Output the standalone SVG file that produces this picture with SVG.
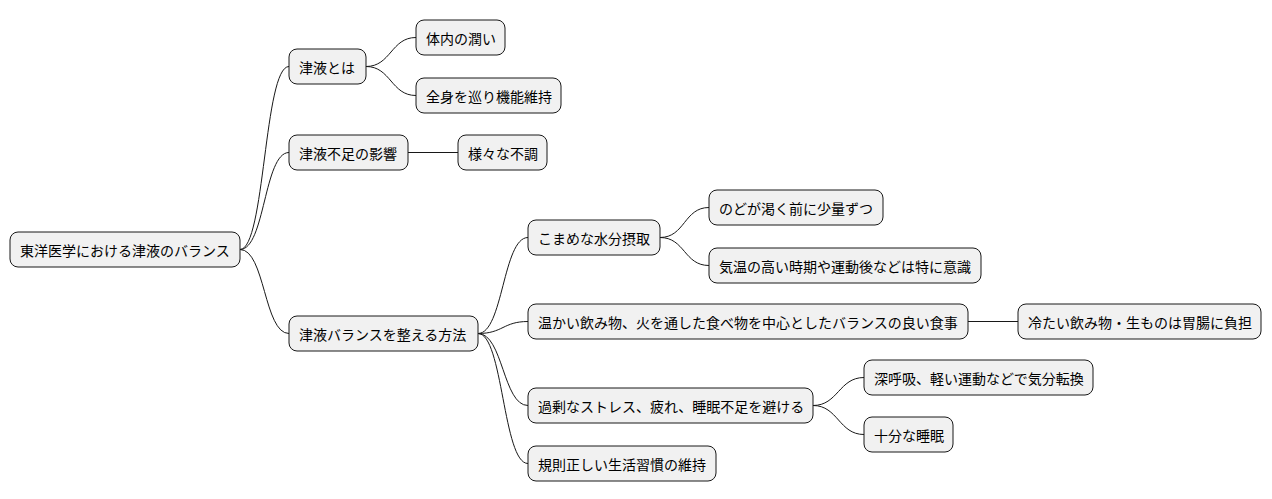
<svg xmlns="http://www.w3.org/2000/svg" width="1272" height="499" viewBox="0 0 1272 499">
<style>
rect{fill:#f1f1f1;stroke:#181818;stroke-width:1}
text{font-family:"Noto Sans CJK JP","Noto Sans",sans-serif;font-size:14px;fill:#000;dominant-baseline:central}
#edges path{fill:none;stroke:#181818;stroke-width:1}
</style>
<rect width="1272" height="499" style="fill:#fff;stroke:none"/>
<g id="edges">
<path d="M240,249.5 C265,249.5 264,66.5 289,66.5"/>
<path d="M240,249.5 C265,249.5 264,152.5 289,152.5"/>
<path d="M240,249.5 C265,249.5 264,333.5 289,333.5"/>
<path d="M366,66.5 C391,66.5 391,37.5 416,37.5"/>
<path d="M366,66.5 C391,66.5 391,95.5 416,95.5"/>
<path d="M408,152.5 L458,152.5"/>
<path d="M478,333.5 C503,333.5 503,237.5 528,237.5"/>
<path d="M478,333.5 C503,333.5 503,321.5 528,321.5"/>
<path d="M478,333.5 C503,333.5 503,405.5 528,405.5"/>
<path d="M478,333.5 C503,333.5 503,463.5 528,463.5"/>
<path d="M660,237.5 C685,237.5 684,207.5 709,207.5"/>
<path d="M660,237.5 C685,237.5 684,265.5 709,265.5"/>
<path d="M968,321.5 L1018,321.5"/>
<path d="M813,405.5 C838,405.5 839,377.5 864,377.5"/>
<path d="M813,405.5 C838,405.5 839,434.5 864,434.5"/>
</g>
<g id="root"><rect x="10" y="232" width="230" height="35" rx="8"/><text x="20" y="249.5">東洋医学における津液のバランス</text></g>
<g id="n1"><rect x="289" y="49" width="77" height="35" rx="8"/><text x="299" y="66.5">津液とは</text></g>
<g id="n11"><rect x="416" y="20" width="89" height="35" rx="8"/><text x="426" y="37.5">体内の潤い</text></g>
<g id="n12"><rect x="416" y="78" width="145" height="35" rx="8"/><text x="426" y="95.5">全身を巡り機能維持</text></g>
<g id="n2"><rect x="289" y="135" width="119" height="35" rx="8"/><text x="299" y="152.5">津液不足の影響</text></g>
<g id="n21"><rect x="458" y="135" width="89" height="35" rx="8"/><text x="468" y="152.5">様々な不調</text></g>
<g id="n3"><rect x="289" y="316" width="189" height="35" rx="8"/><text x="299" y="333.5">津液バランスを整える方法</text></g>
<g id="n31"><rect x="528" y="220" width="132" height="35" rx="8"/><text x="538" y="237.5">こまめな水分摂取</text></g>
<g id="n311"><rect x="709" y="190" width="174" height="35" rx="8"/><text x="719" y="207.5">のどが渇く前に少量ずつ</text></g>
<g id="n312"><rect x="709" y="248" width="272" height="35" rx="8"/><text x="719" y="265.5">気温の高い時期や運動後などは特に意識</text></g>
<g id="n32"><rect x="528" y="304" width="440" height="35" rx="8"/><text x="538" y="321.5">温かい飲み物、火を通した食べ物を中心としたバランスの良い食事</text></g>
<g id="n321"><rect x="1018" y="304" width="243" height="35" rx="8"/><text x="1028" y="321.5">冷たい飲み物・生ものは胃腸に負担</text></g>
<g id="n33"><rect x="528" y="388" width="285" height="35" rx="8"/><text x="538" y="405.5">過剰なストレス、疲れ、睡眠不足を避ける</text></g>
<g id="n331"><rect x="864" y="360" width="229" height="35" rx="8"/><text x="874" y="377.5">深呼吸、軽い運動などで気分転換</text></g>
<g id="n332"><rect x="864" y="417" width="89" height="35" rx="8"/><text x="874" y="434.5">十分な睡眠</text></g>
<g id="n34"><rect x="528" y="446" width="188" height="35" rx="8"/><text x="538" y="463.5">規則正しい生活習慣の維持</text></g>
</svg>
